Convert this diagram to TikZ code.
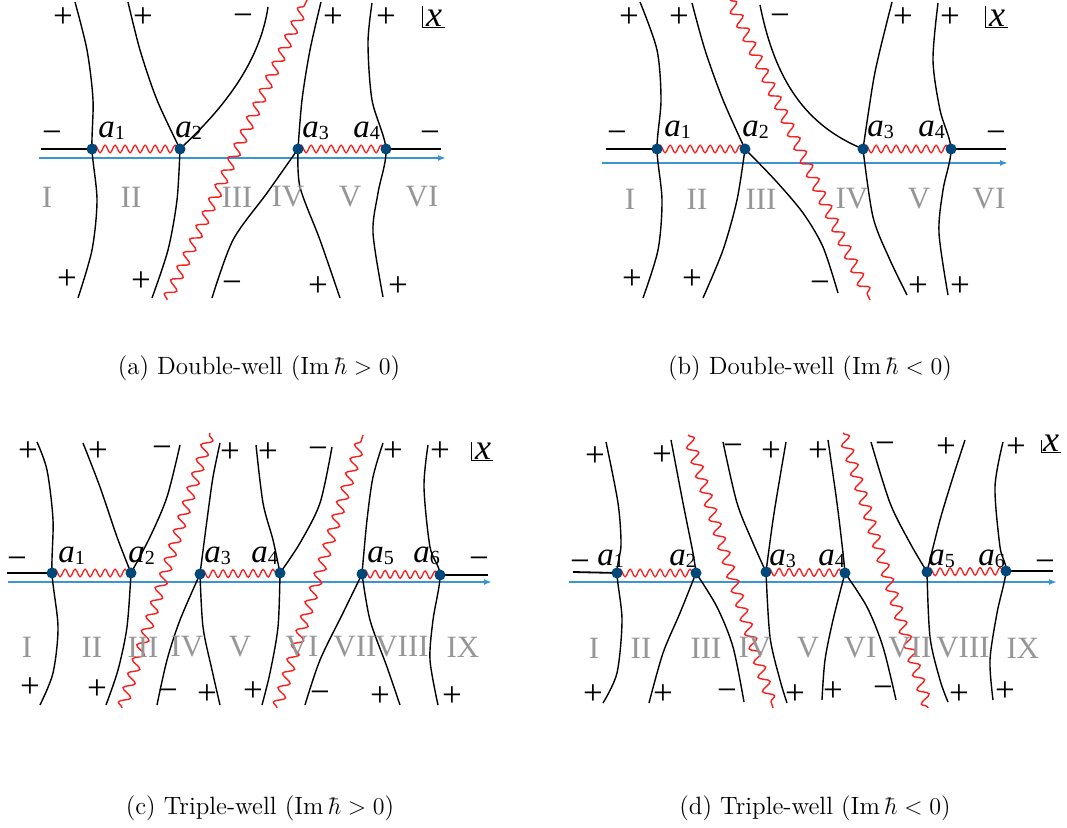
\documentclass[tikz,border=0pt]{standalone}
\usepackage{fontspec}
\newfontfamily\figfont{Liberation Serif}
\usetikzlibrary{decorations.pathmorphing, arrows.meta, calc}
\definecolor{tpblue}{RGB}{0,72,122}
\definecolor{axblue}{RGB}{58,150,210}
\definecolor{cutred}{RGB}{250,30,30}
\definecolor{reggray}{RGB}{150,150,150}
\tikzset{
  tp/.style={circle, fill=tpblue, inner sep=0pt, minimum size=5.5pt},
  stokes/.style={line width=0.7pt, black},
  realline/.style={line width=0.9pt, black},
  realaxis/.style={line width=0.8pt, axblue, -{Latex[length=4pt,width=3pt]}},
  branchcut/.style={cutred, line width=0.65pt, decorate,
                    decoration={snake, amplitude=1.9pt, segment length=5pt}},
  bigcut/.style={cutred, line width=0.7pt, decorate,
                 decoration={snake, amplitude=2.6pt, segment length=7.5pt}},
  lab/.style={font=\figfont\fontsize{16.5}{16.5}\selectfont\itshape, inner sep=0pt, anchor=base west},
  sgn/.style={font=\figfont\fontsize{17.5}{17.5}\selectfont, inner sep=0pt},
  reg/.style={font=\figfont\fontsize{15.5}{15.5}\selectfont, text=reggray, inner sep=0pt},
  xlab/.style={font=\figfont\fontsize{18}{18}\selectfont\itshape, inner sep=0pt},
  corner/.style={line width=0.5pt, black},
  capt/.style={font=\fontsize{12.5}{15}\selectfont, inner sep=0pt},
}
\newcommand{\tpa}[1]{a\raisebox{-1pt}{\fontsize{10}{10}\selectfont\upshape #1}}
\begin{document}
\begin{tikzpicture}[x=0.5pt, y=-0.5pt]
\useasboundingbox (0,0) rectangle (1067,828);

% (a) double-well, Im hbar > 0
\foreach \n/\x in {1/92, 2/180, 3/298, 4/386}
  \coordinate (A\n) at (\x,149);
\draw[realaxis] (39,158) -- (446,158);
\draw[realline] (41,149) -- (A1);
\draw[realline] (A4) -- (441,149);
\draw[bigcut] (167,300) -- (307,0);
\draw[branchcut] (A1) -- (A2);
\draw[branchcut] (A3) -- (A4);
\draw[stokes] plot[smooth] coordinates {(75,2) (87,50) (93,100) (A1) (97,200) (92,250) (78,298)};
\draw[stokes] plot[smooth] coordinates {(128,2) (140,50) (157,100) (A2)};
\draw[stokes] (A2) .. controls (205,125) and (258,75) .. (268,7);
\draw[stokes] plot[smooth] coordinates {(A2) (177,200) (168,250) (152,298)};
\draw[stokes] plot[smooth] coordinates {(A3) (302,100) (310,50) (321,2)};
\draw[stokes] plot[smooth] coordinates {(A3) (267,193) (233,240) (212,298)};
\draw[stokes] plot[smooth] coordinates {(A3) (300,187) (320,240) (340,298)};
\draw[stokes] plot[smooth] coordinates {(372,3) (368,43) (372,100) (A4) (378,193) (373,233) (383,297)};
\foreach \n in {1,...,4}
  \node[tp] (dA\n) at (A\n) {};
\foreach \n/\x in {1/98, 2/175, 3/302, 4/353}
  \node[lab] (lA\n) at (\x,138) {\tpa{\n}};
\foreach \x/\y/\s in {63/18/+, 143/18/+, 243/20/−, 333/18/+, 386/18/+,
                      52/137/−, 430/137/−,
                      67/280/+, 141/282/+, 232/287/−, 318/287/+, 398/287/+}
  \node[sgn] at (\x,\y) {\s};
\foreach \x/\r in {47/I, 131/II, 237/III, 288/IV, 350/V, 422/VI}
  \node[reg] at (\x,197) {\r};
\draw[corner] (422,6) -- (422,28) -- (445,28);
\node[xlab] (xA) at (434,18) {x};
\node[capt] (capA) at (259,368) {(a) Double-well ($\mathrm{Im}\,\hbar > 0$)};

% (b) double-well, Im hbar < 0
\foreach \n/\x in {1/657, 2/745, 3/863, 4/951}
  \coordinate (B\n) at (\x,149);
\draw[realaxis] (602,163) -- (1008,163);
\draw[realline] (606,149) -- (B1);
\draw[realline] (B4) -- (1006,149);
\draw[bigcut] (730,0) -- (870,300);
\draw[branchcut] (B1) -- (B2);
\draw[branchcut] (B3) -- (B4);
\draw[stokes] plot[smooth] coordinates {(640,2) (657,50) (661,100) (B1) (662,200) (658,250) (643,298)};
\draw[stokes] plot[smooth] coordinates {(692,3) (705,50) (723,100) (B2)};
\draw[stokes] plot[smooth] coordinates {(B2) (737,200) (723,250) (703,298)};
\draw[stokes] plot[smooth] coordinates {(B2) (775,180) (803,213) (823,247) (838,293)};
\draw[stokes] (760,5) .. controls (775,80) and (805,125) .. (B3);
\draw[stokes] plot[smooth] coordinates {(B3) (873,83) (880,50) (892,2)};
\draw[stokes] plot[smooth] coordinates {(B3) (873,217) (890,260) (907,295)};
\draw[stokes] plot[smooth] coordinates {(938,3) (933,60) (940,110) (B4) (943,190) (939,233) (948,295)};
\foreach \n in {1,...,4}
  \node[tp] (dB\n) at (B\n) {};
\foreach \n/\x in {1/664, 2/742, 3/867, 4/918}
  \node[lab] (lB\n) at (\x,137) {\tpa{\n}};
\foreach \x/\y/\s in {629/18/+, 679/18/+, 780/20/−, 903/18/+, 950/18/+,
                      617/137/−, 996/137/−,
                      632/280/+, 692/280/+, 820/287/−, 918/287/+, 960/287/+}
  \node[sgn] at (\x,\y) {\s};
\foreach \x/\r in {630/I, 697/II, 761/III, 852/IV, 919/V, 989/VI}
  \node[reg] at (\x,199) {\r};
\draw[corner] (985,6) -- (985,28) -- (1008,28);
\node[xlab] (xB) at (997,18) {x};
\node[capt] (capB) at (810,368) {(b) Double-well ($\mathrm{Im}\,\hbar < 0$)};

% (c) triple-well, Im hbar > 0
\foreach \n/\x/\y in {1/52/573, 2/131/573, 3/200/574, 4/280/573, 5/362/574, 6/440/575}
  \coordinate (C\n) at (\x,\y);
\draw[realaxis] (8,582) -- (492,582);
\draw[realline] (7,573) -- (C1);
\draw[realline] (C6) -- (488,575);
\draw[bigcut] (122,708) -- (210,433);
\draw[bigcut] (277,708) -- (363,435);
\draw[branchcut] (C1) -- (C2);
\draw[branchcut] (C3) -- (C4);
\draw[branchcut] (C5) -- (C6);
\draw[stokes] plot[smooth] coordinates {(37,442) (47,470) (53,520) (C1) (58,627) (53,673) (40,705)};
\draw[stokes] plot[smooth] coordinates {(83,443) (100,487) (117,537) (C2)};
\draw[stokes] plot[smooth] coordinates {(C2) (150,537) (167,497) (180,445)};
\draw[stokes] plot[smooth] coordinates {(C2) (127,627) (118,670) (106,705)};
\draw[stokes] plot[smooth] coordinates {(C3) (207,520) (213,477) (220,443)};
\draw[stokes] plot[smooth] coordinates {(C3) (180,620) (167,660) (157,705)};
\draw[stokes] plot[smooth] coordinates {(C3) (203,627) (212,670) (220,705)};
\draw[stokes] plot[smooth] coordinates {(256,445) (263,503) (273,540) (C4)};
\draw[stokes] plot[smooth] coordinates {(C4) (300,543) (320,503) (332,447)};
\draw[stokes] plot[smooth] coordinates {(C4) (278,627) (270,673) (262,705)};
\draw[stokes] plot[smooth] coordinates {(C5) (367,520) (373,477) (383,443)};
\draw[stokes] plot[smooth] coordinates {(C5) (343,613) (320,660) (305,705)};
\draw[stokes] plot[smooth] coordinates {(C5) (370,620) (387,667) (400,705)};
\draw[stokes] plot[smooth] coordinates {(428,445) (424,487) (430,547) (C6) (433,620) (430,660) (438,705)};
\foreach \n in {1,...,6}
  \node[tp] (dC\n) at (C\n) {};
\foreach \n/\x in {1/58, 2/128, 3/204, 4/251, 5/367, 6/413}
  \node[lab] (lC\n) at (\x,563) {\tpa{\n}};
\foreach \x/\y/\s in {28/452/+, 98/452/+, 162/452/−, 230/453/+, 268/453/+, 318/453/−, 393/452/+, 440/452/+,
                      17/563/−, 479/563/−,
                      30/688/+, 97/690/+, 168/695/−, 207/695/+, 253/692/+, 320/697/−, 380/697/+, 452/697/+}
  \node[sgn] at (\x,\y) {\s};
\foreach \x/\r in {27/I, 92/II, 143/III, 187/IV, 240/V, 302/VI, 355/VII, 402/VIII, 463/IX}
  \node[reg] at (\x,647) {\r};
\draw[corner] (471,442) -- (471,461) -- (493,461);
\node[xlab] (xC) at (483,451) {x};
\node[capt] (capC) at (260,808) {(c) Triple-well ($\mathrm{Im}\,\hbar > 0$)};

% (d) triple-well, Im hbar < 0
\foreach \n/\x/\y in {1/617/573, 2/696/573, 3/766/572, 4/845/573, 5/927/572, 6/1006/571}
  \coordinate (D\n) at (\x,\y);
\draw[realaxis] (569,582) -- (1057,582);
\draw[realline] (573,572) -- (D1);
\draw[realline] (D6) -- (1053,571);
\draw[bigcut] (688,435) -- (773,708);
\draw[bigcut] (843,433) -- (928,708);
\draw[branchcut] (D1) -- (D2);
\draw[branchcut] (D3) -- (D4);
\draw[branchcut] (D5) -- (D6);
\draw[stokes] plot[smooth] coordinates {(606,442) (618,503) (621,545) (D1) (622,620) (617,673) (603,703)};
\draw[stokes] plot[smooth] coordinates {(671,440) (683,503) (693,553) (D2)};
\draw[stokes] plot[smooth] coordinates {(D2) (680,613) (663,653) (649,703)};
\draw[stokes] plot[smooth] coordinates {(D2) (717,607) (733,647) (744,702)};
\draw[stokes] plot[smooth] coordinates {(723,442) (737,503) (753,543) (D3)};
\draw[stokes] plot[smooth] coordinates {(D3) (773,520) (780,477) (786,442)};
\draw[stokes] plot[smooth] coordinates {(D3) (770,637) (780,680) (787,703)};
\draw[stokes] plot[smooth] coordinates {(828,440) (837,503) (843,553) (D4)};
\draw[stokes] plot[smooth] coordinates {(D4) (833,620) (825,660) (822,700)};
\draw[stokes] plot[smooth] coordinates {(D4) (867,607) (883,647) (896,700)};
\draw[stokes] plot[smooth] coordinates {(871,442) (890,503) (910,543) (D5)};
\draw[stokes] plot[smooth] coordinates {(D5) (940,520) (953,477) (965,440)};
\draw[stokes] plot[smooth] coordinates {(D5) (930,637) (940,680) (948,702)};
\draw[stokes] plot[smooth] coordinates {(1003,442) (995,487) (1000,547) (D6) (997,613) (990,660) (993,700)};
\foreach \n in {1,...,6}
  \node[tp] (dD\n) at (D\n) {};
\foreach \n/\x in {1/597, 2/669, 3/769, 4/818, 5/928, 6/978}
  \node[lab] (lD\n) at (\x,566) {\tpa{\n}};
\foreach \x/\y/\s in {595/457/+, 662/456/+, 733/450/−, 771/452/+, 818/452/+, 885/448/−, 946/448/+, 1016/448/+,
                      580/566/−, 1045/566/−,
                      593/695/+, 663/695/+, 727/695/−, 795/695/+, 833/692/+, 883/692/−, 959/695/+, 1005/692/+}
  \node[sgn] at (\x,\y) {\s};
\foreach \x/\r in {594/I, 641/II, 706/III, 755/IV, 808/V, 860/VI, 910/VII, 963/VIII, 1023/IX}
  \node[reg] at (\x,648) {\r};
\draw[corner] (1041,440) -- (1041,453) -- (1061,453);
\node[xlab] (xD) at (1051,443) {x};
\node[capt] (capD) at (815,808) {(d) Triple-well ($\mathrm{Im}\,\hbar < 0$)};
\end{tikzpicture}
\end{document}
